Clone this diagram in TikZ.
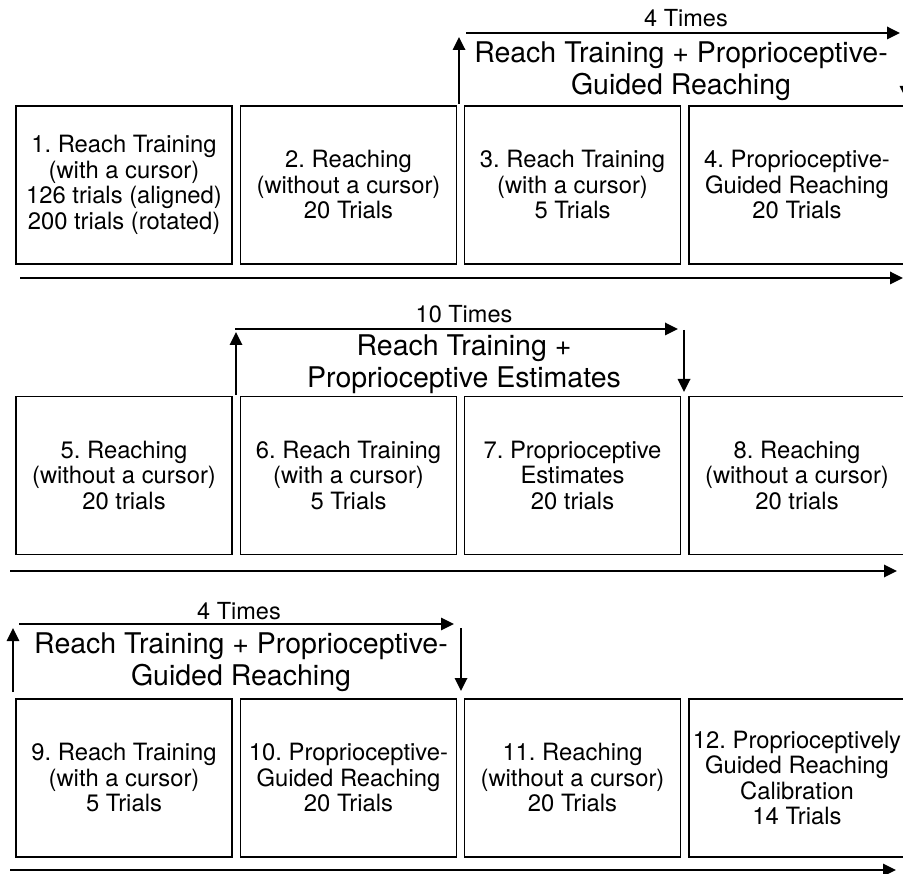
\documentclass[tikz,border=0pt]{standalone}
\usepackage{fontspec}
\setmainfont{TeX Gyre Heros}
\usetikzlibrary{arrows.meta}
\frenchspacing
\begin{document}
\begin{tikzpicture}[x=1pt,y=-1pt,
  stage/.style={draw, line width=1.8pt, minimum width=216pt, minimum height=158pt,
    inner sep=0pt, align=center, font=\fontsize{23.8}{25.5}\selectfont},
  flow/.style={line width=1.8pt, -{Triangle[length=13pt,width=12.5pt]}},
  looplabel/.style={align=center, inner sep=0pt, font=\fontsize{28.5}{32}\selectfont},
  timeslabel/.style={anchor=base, inner sep=0pt, font=\fontsize{23.5}{25.5}\selectfont}]
\useasboundingbox (0,0) rectangle (903,874);

% ---------- Row 1 ----------
\node[stage] (s1) at (124,185) {1. Reach Training\\(with a cursor)\\126 trials (aligned)\\200 trials (rotated)};
\node[stage] (s2) at (348.5,185) {2. Reaching\\(without a cursor)\\20 Trials};
\node[stage] (s3) at (572.5,185) {3. Reach Training\\(with a cursor)\\5 Trials};
\node[stage] (s4) at (797,185) {4. Proprioceptive-\\Guided Reaching\\20 Trials};

\coordinate (t1s) at (20,278);
\coordinate (t1e) at (903,278);
\draw[flow] (t1s) -- (t1e);

\coordinate (u1a) at (459,104);
\coordinate (u1b) at (459,37);
\coordinate (h1a) at (466,33);
\coordinate (h1b) at (900,33);
\coordinate (d1a) at (906,37);
\coordinate (d1b) at (906,99);
\draw[flow] (u1a) -- (u1b);
\draw[flow] (h1a) -- (h1b);
\draw[flow] (d1a) -- (d1b);
\node[timeslabel] (n1) at (686,27) {4 Times};
\node[looplabel] (g1) at (681,71.5) {Reach Training + Proprioceptive-\\Guided Reaching};

% ---------- Row 2 ----------
\node[stage] (s5) at (124,475.5) {5. Reaching\\(without a cursor)\\20 trials};
\node[stage] (s6) at (348.5,475.5) {6. Reach Training\\(with a cursor)\\5 Trials};
\node[stage] (s7) at (572.5,475.5) {7. Proprioceptive\\Estimates\\20 trials};
\node[stage] (s8) at (797,475.5) {8. Reaching\\(without a cursor)\\20 trials};

\coordinate (t2s) at (10,571);
\coordinate (t2e) at (897,571);
\draw[flow] (t2s) -- (t2e);

\coordinate (u2a) at (236,395);
\coordinate (u2b) at (236,332);
\coordinate (h2a) at (235.1,329);
\coordinate (h2b) at (678,329);
\coordinate (d2a) at (684,330);
\coordinate (d2b) at (684,392);
\draw[flow] (u2a) -- (u2b);
\draw[flow] (h2a) -- (h2b);
\draw[flow] (d2a) -- (d2b);
\node[timeslabel] (n2) at (464,323) {10 Times};
\node[looplabel] (g2) at (464,364) {Reach Training +\\Proprioceptive Estimates};

% ---------- Row 3 ----------
\node[stage] (s9) at (124,778) {9. Reach Training\\(with a cursor)\\5 Trials};
\node[stage] (s10) at (348.5,778) {10. Proprioceptive-\\Guided Reaching\\20 Trials};
\node[stage] (s11) at (572.5,778) {11. Reaching\\(without a cursor)\\20 Trials};
\node[stage] (s12) at (797,778) {12. Proprioceptively\\Guided Reaching\\Calibration\\14 Trials};

\coordinate (t3s) at (10,870);
\coordinate (t3e) at (896,870);
\draw[flow] (t3s) -- (t3e);

\coordinate (u3a) at (13,692);
\coordinate (u3b) at (13,628);
\coordinate (h3a) at (19,624);
\coordinate (h3b) at (454,624);
\coordinate (d3a) at (461,628);
\coordinate (d3b) at (461,691);
\draw[flow] (u3a) -- (u3b);
\draw[flow] (h3a) -- (h3b);
\draw[flow] (d3a) -- (d3b);
\node[timeslabel] (n3) at (239,619) {4 Times};
\node[looplabel] (g3) at (241,662.7) {Reach Training + Proprioceptive-\\Guided Reaching};
\end{tikzpicture}
\end{document}
